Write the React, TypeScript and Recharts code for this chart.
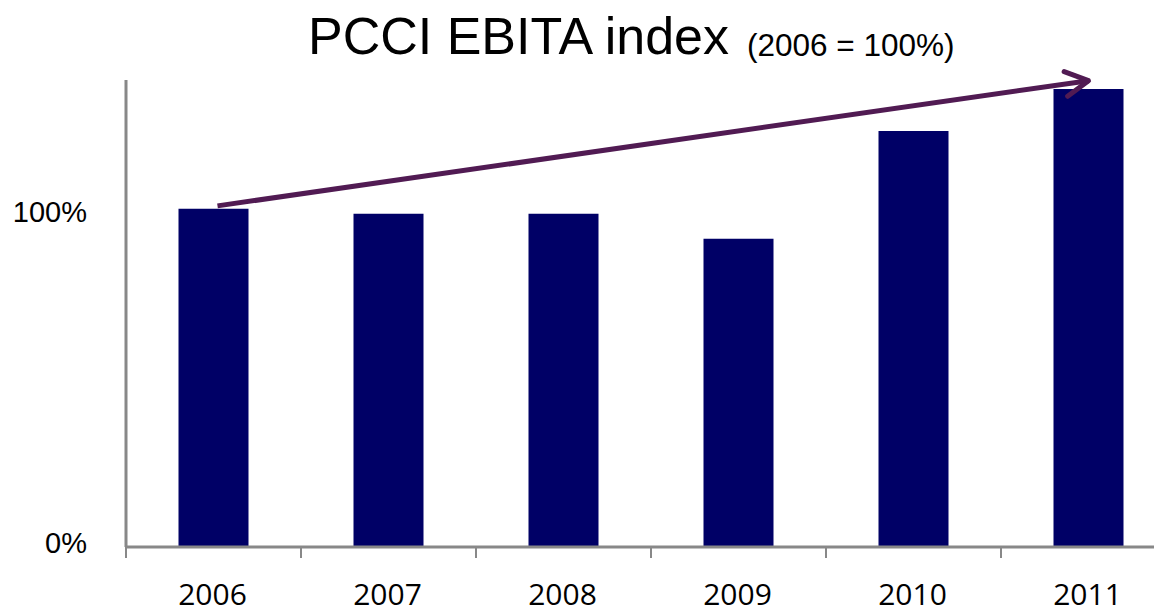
import React from "react";
import { BarChart, Bar, XAxis, YAxis, ReferenceLine } from "recharts";

const categories = ["2006", "2007", "2008", "2009", "2010", "2011"];
const ebitaIndex = [102.1, 100.6, 100.6, 93.1, 125.6, 138.3];
const yTicks = [0, 100];
const yDomainMax = 141;
const arrowStart = { x: "2006", y: 103.0 };
const arrowEnd = { x: "2011", y: 140.8 };

const data = categories.map((c, i) => ({ year: c, value: ebitaIndex[i] }));

const CHART_W = 1170;
const CHART_H = 602;
const MARGIN = { top: 72, right: 2, left: 0, bottom: 0 };
const Y_AXIS_W = 118;
const X_AXIS_H = CHART_H - MARGIN.top - MARGIN.bottom - 467;
const PLOT_W = CHART_W - MARGIN.left - MARGIN.right - Y_AXIS_W;
const HALF_BAND = PLOT_W / categories.length / 2;

const AXIS_COLOR = "#888888";
const BAR_COLOR = "#000066";
const ARROW_COLOR = "#511b53";

const XTick = (props: any) => {
  const { x, y, payload } = props;
  const lx = x - HALF_BAND;
  return (
    <g>
      <line x1={lx} y1={y} x2={lx} y2={y + 11} stroke={AXIS_COLOR} strokeWidth={2} />
      <text
        x={x - 1}
        y={y + 58}
        textAnchor="middle"
        fontFamily="'Open Sans', 'Noto Sans', sans-serif"
        fontSize={30}
        fill="#000"
      >
        {payload.value}
      </text>
    </g>
  );
};

const YTick = (props: any) => {
  const { x, y, payload } = props;
  return (
    <text
      x={x}
      y={y + 6}
      textAnchor="end"
      fontFamily="'Liberation Sans', Arial, sans-serif"
      fontSize={29}
      fill="#000"
    >
      {payload.value}%
    </text>
  );
};

const ArrowShape = (props: any) => {
  const { x1, y1, x2, y2 } = props;
  if ([x1, y1, x2, y2].some((v) => typeof v !== "number" || isNaN(v))) return null;
  const ang = Math.atan2(y2 - y1, x2 - x1);
  const len = 26;
  const spread = 0.5;
  const ax1 = x2 - len * Math.cos(ang - spread);
  const ay1 = y2 - len * Math.sin(ang - spread);
  const ax2 = x2 - len * Math.cos(ang + spread);
  const ay2 = y2 - len * Math.sin(ang + spread);
  return (
    <g>
      <line x1={x1 + 4} y1={y1} x2={x2} y2={y2} stroke={ARROW_COLOR} strokeWidth={5} strokeLinecap="butt" />
      <path
        d={`M${ax1},${ay1} L${x2},${y2} L${ax2},${ay2}`}
        fill="none"
        stroke={ARROW_COLOR}
        strokeWidth={5}
        strokeLinecap="round"
        strokeLinejoin="round"
      />
    </g>
  );
};

export default function App() {
  return (
    <div style={{ position: "relative", width: 1154, height: CHART_H, overflow: "hidden" }}>
      <BarChart width={CHART_W} height={CHART_H} data={data} margin={MARGIN} barCategoryGap="30%">
        <XAxis
          dataKey="year"
          height={X_AXIS_H}
          axisLine={{ stroke: AXIS_COLOR, strokeWidth: 3 }}
          tickLine={false}
          tickSize={0}
          tickMargin={0}
          tick={<XTick />}
          interval={0}
        />
        <YAxis
          width={Y_AXIS_W}
          domain={[0, yDomainMax]}
          ticks={yTicks}
          axisLine={{ stroke: AXIS_COLOR, strokeWidth: 3 }}
          tickLine={false}
          tickSize={0}
          tickMargin={39}
          tick={<YTick />}
          allowDataOverflow
        />
        <Bar dataKey="value" fill={BAR_COLOR} isAnimationActive={false} />
        <ReferenceLine
          segment={[arrowStart, arrowEnd]}
          ifOverflow="visible"
          shape={(p: any) => <ArrowShape {...p} />}
        />
      </BarChart>
      <svg
        width={1154}
        height={80}
        style={{ position: "absolute", left: 0, top: 0, pointerEvents: "none" }}
      >
        <text fontFamily="'Liberation Sans', Arial, sans-serif" fill="#000">
          <tspan x={300} y={46} fontSize={52}>
            PCCI EBITA index
          </tspan>
          <tspan x={739} y={48} fontSize={31.5}>
            (2006 = 100%)
          </tspan>
        </text>
      </svg>
    </div>
  );
}
